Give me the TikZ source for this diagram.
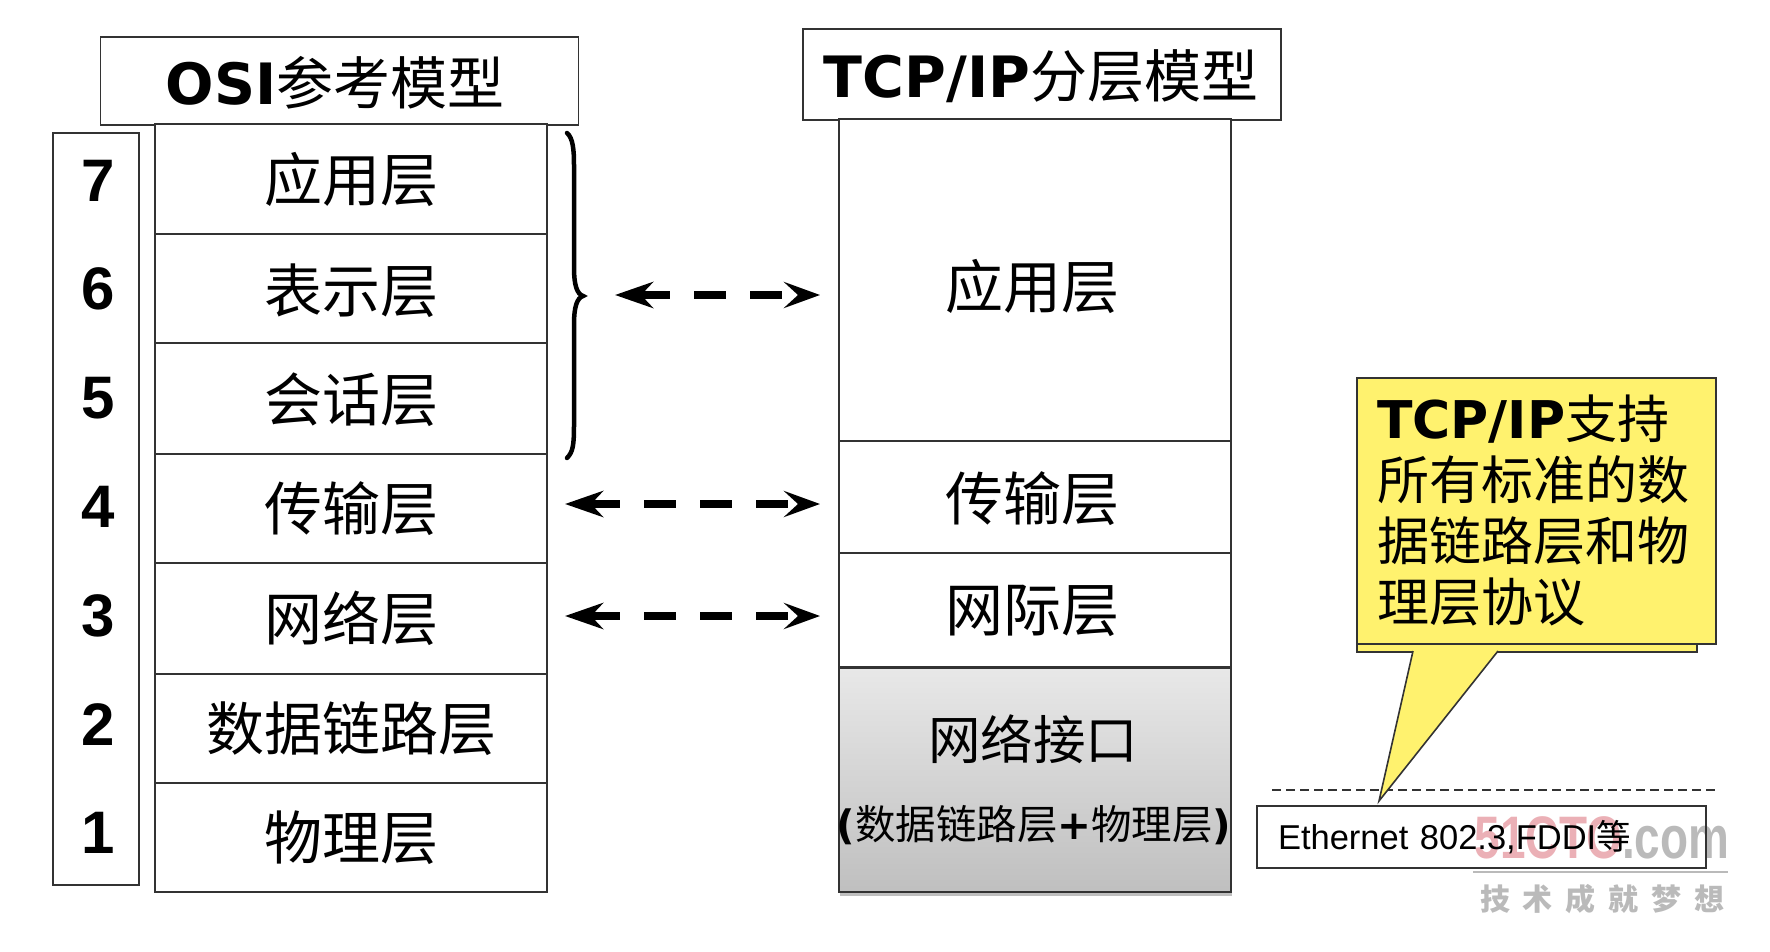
\documentclass[tikz,border=0pt]{standalone}
\usepackage{fontspec}
\usepackage{graphicx}
\setmainfont{Liberation Sans}
\newfontfamily\cjk{Noto Sans CJK SC}
\newfontfamily\heavy{DejaVu Sans Bold}
\newfontfamily\arialb{Liberation Sans Bold}
\usetikzlibrary{arrows.meta,shadows}
\definecolor{linegray}{HTML}{333333}
\definecolor{noteyellow}{HTML}{FFF26E}
\definecolor{markpink}{HTML}{EBB0B6}
\definecolor{markgray}{HTML}{BABABA}
\tikzset{
  box/.style={draw=linegray,line width=1.6pt,fill=white,inner sep=0pt,align=center},
  titlebox/.style={box,minimum height=88pt,minimum width=478pt},
  titletext/.style={inner sep=0pt,font=\fontsize{57}{60}\selectfont},
  layer/.style={box,minimum width=392pt,font=\cjk\fontsize{58}{60}\selectfont},
  layertext/.style={inner sep=0pt,font=\cjk\fontsize{58}{60}\selectfont},
  digit/.style={inner sep=0pt,font=\arialb\fontsize{60}{60}\selectfont},
  twoway/.style={line width=8pt,dash pattern=on 32pt off 24pt,
    {Stealth[length=38pt,width=26pt,inset=12pt]}-{Stealth[length=36pt,width=26pt,inset=14pt]}}
}
\begin{document}
\begin{tikzpicture}[x=1pt,y=-1pt]
\useasboundingbox (0,0) rectangle (1770,952);
\node [inner sep=0pt,font=\bfseries\fontsize{60}{60}\selectfont] (markname) at (1602,838) {\scalebox{.765}[1]{\textcolor{markpink}{51CTO}\textcolor{markgray}{.com}}};
\draw [markgray,line width=1.5pt] (1473,872) -- (1728,872);
\node [inner sep=0pt,text=markgray,font=\cjk\bfseries\fontsize{30}{30}\selectfont] (markline) at (1602,899) {技\hspace{12.8pt}术\hspace{12.8pt}成\hspace{12.8pt}就\hspace{12.8pt}梦\hspace{12.8pt}想};
\node [titlebox] (osititle) at (339.5,81) {};
\node [titletext] (ositext) at (335,83) {{\heavy OSI}{\cjk 参考模型}};
\node [titlebox,minimum height=91pt] (tcptitle) at (1042,74.5) {};
\node [titletext] (tcptext) at (1041,76) {{\heavy TCP/IP}{\cjk 分层模型}};
\node [box,minimum width=86pt,minimum height=752pt] (numbers) at (96,509) {};
\node [digit] (n7) at (98,181) {7};
\node [digit] (n6) at (98,289) {6};
\node [digit] (n5) at (98,398) {5};
\node [digit] (n4) at (98,507) {4};
\node [digit] (n3) at (98,616) {3};
\node [digit] (n2) at (98,725) {2};
\node [digit] (n1) at (98,833) {1};
\node [layer,minimum height=110pt] (osi7) at (351,179) {应用层};
\node [layer,minimum height=109pt] (osi6) at (351,288.5) {};
\node [layertext] (osi6text) at (351,291) {表示层};
\node [layer,minimum height=111pt] (osi5) at (351,398.5) {};
\node [layertext] (osi5text) at (351,400) {会话层};
\node [layer,minimum height=109pt] (osi4) at (351,508.5) {传输层};
\node [layer,minimum height=111pt] (osi3) at (351,618.5) {网络层};
\node [layer,minimum height=109pt] (osi2) at (351,728.5) {数据链路层};
\node [layer,minimum height=109pt] (osi1) at (351,837.5) {物理层};
\node [layer,minimum height=322pt] (tcpapp) at (1035,280) {};
\node [layertext] (tcpapptext) at (1032,286) {应用层};
\node [layer,minimum height=112pt] (tcptrans) at (1035,497) {};
\node [layertext] (tcptranstext) at (1032,499) {传输层};
\node [layer,minimum height=114pt] (tcpnet) at (1035,610) {};
\node [layertext] (tcpnettext) at (1032,611) {网际层};
\node [layer,minimum height=224pt,top color=black!9,bottom color=black!25,
  drop shadow={shadow xshift=1pt,shadow yshift=-4pt,opacity=.5}] (tcplink) at (1035,780) {};
\node [inner sep=0pt,font=\cjk\fontsize{52.5}{52.5}\selectfont] (linkname) at (1033,739) {网络接口};
\node [inner sep=0pt,font=\cjk\fontsize{40.5}{41}\selectfont] (linknote) at (1034,825) {{\heavy(}数据链路层{\heavy+}物理层{\heavy)}};
\draw [black,line width=4.5pt,line cap=round] (567,133) .. controls (573,138) and (574,150) .. (574,165) -- (574,268) .. controls (574,285) and (577,294) .. (583,296) .. controls (577,298) and (574,307) .. (574,324) -- (574,425) .. controls (574,445) and (573,452) .. (567,458);
\coordinate (a1) at (615,295);
\coordinate (b1) at (820,295);
\coordinate (a2) at (565,504);
\coordinate (b2) at (820,504);
\coordinate (a3) at (565,616);
\coordinate (b3) at (820,616);
\draw [twoway] (a1) -- (b1);
\draw [twoway] (a2) -- (b2);
\draw [twoway] (a3) -- (b3);
\draw [linegray,line width=1.5pt,dash pattern=on 9pt off 5pt] (1272,790) -- (1717,790);
\node [box,fill=noteyellow,minimum width=340pt,minimum height=274pt,anchor=north west] (strip) at (1356,377) {};
\node [box,fill=noteyellow,minimum width=359pt,minimum height=266pt,anchor=north west] (note) at (1356,377) {};
\node [inner sep=0pt,anchor=north west,align=left,font=\cjk\fontsize{52}{61}\selectfont] (notetext) at (1377,395) {{\heavy TCP/IP}支持\\所有标准的数\\据链路层和物\\理层协议};
\coordinate (tailleft) at (1413,651);
\coordinate (tailright) at (1498,651);
\coordinate (tailtip) at (1379,801);
\fill [noteyellow] (tailleft) ++(0,-5) -- (tailleft) -- (tailtip) -- (tailright) -- ++(0,-5) -- cycle;
\draw [linegray,line width=1.6pt] (tailleft) -- (tailtip) -- (tailright);
\node [box,fill=none,minimum width=449pt,minimum height=62pt,inner xsep=21pt,text width=407pt,align=left,font=\fontsize{34.5}{34.5}\selectfont] (ethernet) at (1481.5,837) {Ethernet 802.3,FDDI{\cjk 等}};
\end{tikzpicture}
\end{document}
